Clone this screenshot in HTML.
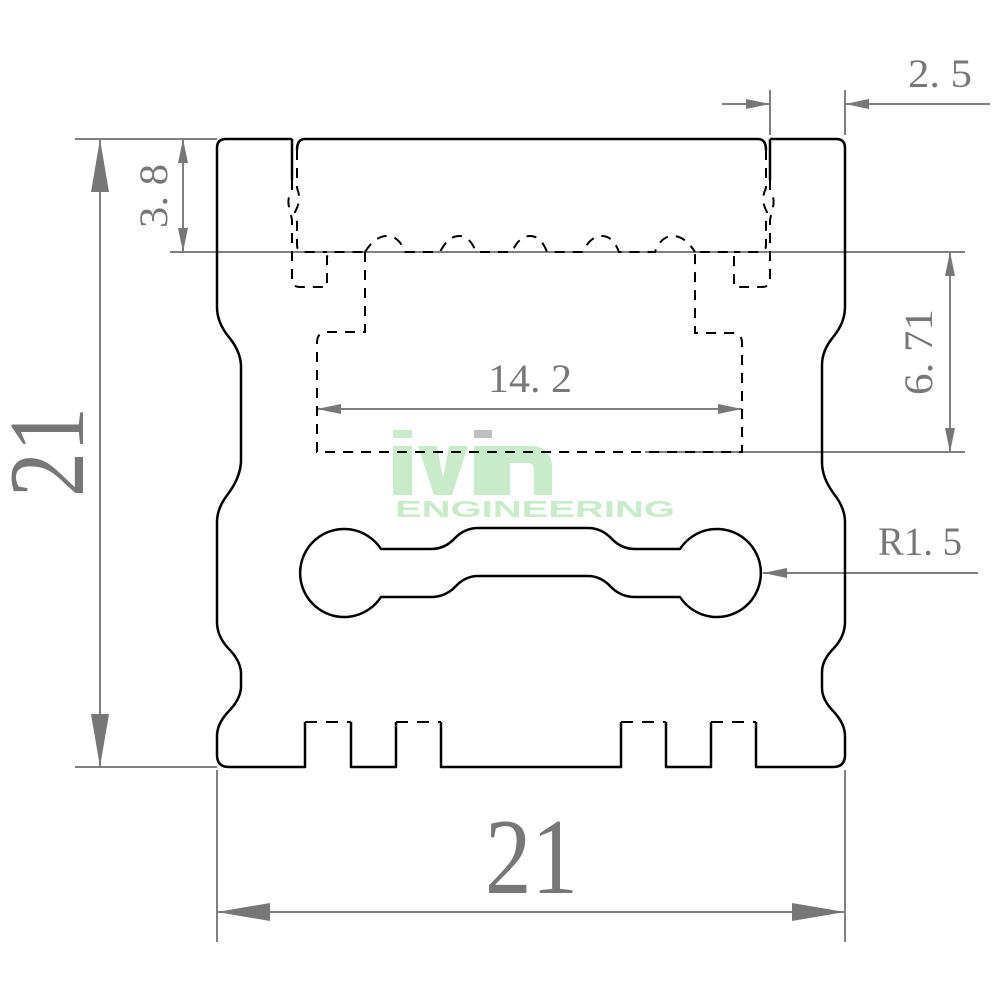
<!DOCTYPE html>
<html><head><meta charset="utf-8"><style>html,body{margin:0;padding:0;background:#fff}svg{display:block}</style></head>
<body>
<svg width="1000" height="1000" viewBox="0 0 1000 1000" xmlns="http://www.w3.org/2000/svg">
<rect width="1000" height="1000" fill="#fff"/>
<!-- watermark -->
<g fill="#c8ecca">
<rect x="393" y="446" width="19" height="49"/>
<rect x="393" y="430" width="19" height="8"/>
<polygon points="418,446 437,446 443,478 449,446 468,446 452,495 434,495"/>
<rect x="474" y="446" width="18" height="49"/>
<path d="M492,446 L530,446 Q552,446 552,468 L552,495 L534,495 L534,470 Q534,463 527,463 L510,463 L510,495 L492,495 Z"/>
<text x="395" y="517" font-family="Liberation Sans, sans-serif" font-weight="bold" font-size="23" textLength="280" lengthAdjust="spacingAndGlyphs">ENGINEERING</text>
</g>
<rect x="474" y="430" width="18" height="8" fill="#c0c0c0"/>

<!-- gray dimension lines -->
<g stroke="#808080" stroke-width="2" fill="none">
<line x1="75" y1="139" x2="217" y2="139"/>
<line x1="75" y1="767" x2="217" y2="767"/>
<line x1="100" y1="139" x2="100" y2="767"/>
<line x1="170" y1="252" x2="965" y2="252"/>
<line x1="183" y1="139" x2="183" y2="252"/>
<line x1="645" y1="452" x2="965" y2="452"/>
<line x1="950" y1="252" x2="950" y2="452"/>
<line x1="317" y1="409" x2="742" y2="409"/>
<line x1="770" y1="90" x2="770" y2="135"/>
<line x1="845" y1="90" x2="845" y2="135"/>
<line x1="722" y1="104" x2="770" y2="104"/>
<line x1="845" y1="104" x2="990" y2="104"/>
<line x1="763" y1="573" x2="978" y2="573"/>
<line x1="217" y1="770" x2="217" y2="942"/>
<line x1="845" y1="770" x2="845" y2="942"/>
<line x1="217" y1="912" x2="845" y2="912"/>
</g>
<g fill="#777">
<polygon points="100,139 91,192 109,192"/>
<polygon points="100,767 91,714 109,714"/>
<polygon points="183,139 178,163 188,163"/>
<polygon points="183,252 178,228 188,228"/>
<polygon points="950,252 945,276 955,276"/>
<polygon points="950,452 945,428 955,428"/>
<polygon points="317,409 341,404 341,414"/>
<polygon points="742,409 718,404 718,414"/>
<polygon points="770,104 746,99 746,109"/>
<polygon points="845,104 869,99 869,109"/>
<polygon points="763,573 787,568 787,578"/>
<polygon points="217,912 270,903 270,921"/>
<polygon points="845,912 792,903 792,921"/>
</g>
<g fill="#777" font-family="Liberation Serif, serif">
<text x="485" y="893" font-size="108" textLength="93" lengthAdjust="spacingAndGlyphs">21</text>
<text transform="translate(83,497) rotate(-90)" font-size="108" textLength="90" lengthAdjust="spacingAndGlyphs">21</text>
<text x="488" y="392" font-size="40" textLength="84" lengthAdjust="spacingAndGlyphs">14. 2</text>
<text x="878" y="555" font-size="40" textLength="84" lengthAdjust="spacingAndGlyphs">R1. 5</text>
<text x="908" y="87" font-size="40" textLength="64" lengthAdjust="spacingAndGlyphs">2. 5</text>
<text transform="translate(167,228) rotate(-90)" font-size="40" textLength="64" lengthAdjust="spacingAndGlyphs">3. 8</text>
<text transform="translate(932,395) rotate(-90)" font-size="40" textLength="86" lengthAdjust="spacingAndGlyphs">6. 71</text>
</g>

<!-- profile outline -->
<g stroke="#000" stroke-width="2.5" fill="none" stroke-linejoin="round">
<path d="M292,139 L226,139 Q217,139 217,148 L217,307 Q217,322 228,336 Q240,350 241,365 L241,462 Q240,478 228,494 Q217,508 217,522 L217,622 Q217,636 228,648 Q240,660 241,672 L241,688 Q240,700 228,712 Q217,724 217,736 L217,755 Q217,767 229,767 L305,767 L305,722 M351,722 L351,767 L396,767 L396,722 M441,722 L441,767 L621,767 L621,722 M666,722 L666,767 L711,767 L711,722 M756,722 L756,767 L833,767 Q845,767 845,755 L845,736 Q845,724 834,712 Q822,700 822,688 L822,672 Q822,660 834,648 Q845,636 845,622 L845,522 Q845,508 834,494 Q822,478 822,462 L822,365 Q822,350 834,336 Q845,322 845,307 L845,148 Q845,139 836,139 L770,139"/>
<path d="M297,150 Q297,139 305,139 L758,139 Q766,139 766,150"/>
<path d="M292,139 L292,180 M770,139 L770,180"/>
<path d="M381,549 A44 44 0 1 0 381,597 L431,597 Q445,597 455,587 Q465,576 478,576 L588,576 Q601,576 611,587 Q621,597 635,597 L680,597 A44 44 0 1 0 680,549 L635,549 Q621,549 611,538 Q601,528 588,528 L478,528 Q465,528 455,538 Q445,549 431,549 Z"/>
</g>
<g stroke="#000" stroke-width="2" fill="none" stroke-dasharray="10,8">
<path d="M305,722 L351,722 M396,722 L441,722 M621,722 L666,722 M711,722 L756,722" stroke-dasharray="12,9"/>
<path d="M292,180 L292,190 Q286,200 290,210 L292,220 L292,280 Q292,287 300,287 L327,287 L327,258 Q327,252 335,252 L365,252"/>
<path d="M297,150 L297,188 Q302,200 295,212 L297,222 L297,245 Q297,252 305,252 L327,252"/>
<path d="M770,180 L770,190 Q776,200 772,210 L770,220 L770,280 Q770,287 762,287 L734,287 L734,258 Q734,252 728,252 L695,252"/>
<path d="M766,150 L766,188 Q760,200 767,212 L766,222 L766,245 Q766,252 758,252 L734,252"/>
<path d="M365,252 Q375,236 387,236 Q399,236 405,252 L440,252 Q448,236 459,236 Q470,236 476,252 L512,252 Q519,236 530,236 Q541,236 547,252 L583,252 Q590,236 602,236 Q613,236 619,252 L655,252 Q661,236 673,236 Q685,236 695,252"/>
<path d="M365,252 L365,332 L327,332 Q317,332 317,343 L317,452 L742,452 L742,343 Q742,333 732,333 L695,333 L695,252"/>
</g>
</svg>
</body></html>
